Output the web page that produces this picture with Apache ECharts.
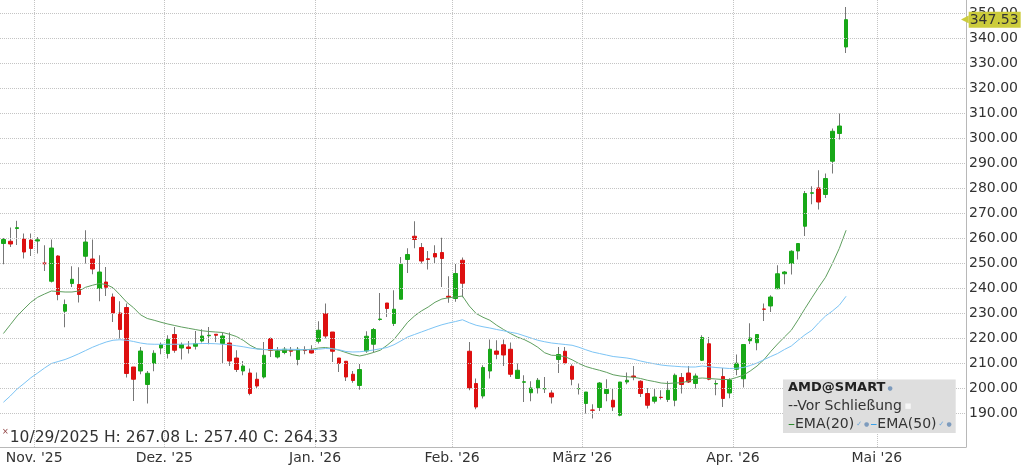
<!DOCTYPE html>
<html><head><meta charset="utf-8">
<script src="https://cdn.jsdelivr.net/npm/echarts@6/dist/echarts.min.js"></script>
<style>html,body{margin:0;padding:0;background:#fff}#c{width:1024px;height:468px}</style>
</head><body><div id="c"></div>
<script>
// ---- categories (trading days) ----
const startDate = '2025-10-27';
const holidays = ['2025-11-27','2025-12-25','2026-01-01','2026-01-19','2026-02-16','2026-04-03'];
const slotCount = 141;
const monthKeys = ['2025-11','2025-12','2026-01','2026-02','2026-03','2026-04','2026-05'];
const monthLabels = ["Nov. '25","Dez. '25","Jan. '26","Feb. '26","März '26","Apr. '26","Mai '26"];
const yGridValues = [190,200,210,220,230,240,250,260,270,280,290,300,310,320,330,340,350];
const infoIndex = 2;

// ---- OHLC ----
const opens = [258.0,258.9,264.0,259.8,259.4,259.0,250.2,242.9,253.0,230.9,242.0,241.6,252.9,251.8,240.0,242.6,236.6,230.2,232.4,208.6,
207.0,201.6,210.0,216.2,214.0,221.6,216.2,216.6,216.9,219.0,221.1,221.7,218.0,218.2,212.2,207.0,206.2,203.7,204.6,220.0,
212.6,214.4,215.3,211.6,215.6,215.6,218.9,230.0,222.6,212.2,210.9,205.7,201.2,215.0,217.7,227.6,234.2,226.0,235.7,251.6,
260.9,256.4,251.9,254.0,254.4,236.9,236.0,251.3,214.9,202.0,197.0,207.0,215.0,217.5,215.7,204.0,202.5,198.3,200.2,199.9,
198.2,211.6,214.9,208.9,199.9,194.0,191.4,192.4,198.0,195.3,189.3,202.6,205.0,202.9,198.0,194.9,196.5,195.6,195.3,204.4,
206.2,202.0,211.3,217.9,201.8,204.8,198.2,207.7,203.9,219.1,218.3,231.8,233.0,239.9,245.9,250.0,255.0,264.9,278.1,280.2,
277.6,290.9,302.0,336.6];
const highs = [260.2,264.4,267.08,262.0,262.0,260.6,257.3,259.6,253.3,235.6,248.9,248.5,263.3,259.6,253.3,248.6,238.0,234.9,234.0,208.6,
216.6,207.0,215.3,218.4,221.3,224.6,218.4,219.0,223.0,223.7,224.6,221.7,222.4,222.4,215.3,211.0,208.0,206.4,218.6,220.4,
216.6,216.6,216.6,216.6,216.9,217.3,226.9,234.0,222.6,212.2,210.9,207.0,209.8,222.9,224.2,238.2,234.2,239.3,252.6,256.1,
266.9,258.2,255.0,257.3,260.3,244.9,249.8,252.4,218.6,204.0,209.3,219.6,219.3,219.6,218.4,210.0,205.3,202.9,204.2,204.6,
199.3,216.6,216.6,209.7,202.0,198.6,193.7,202.6,203.7,200.2,202.6,206.4,209.0,203.3,200.2,200.0,199.3,202.9,206.0,206.2,
209.0,206.0,221.3,220.6,203.3,208.2,204.1,213.6,217.6,226.1,221.8,234.0,237.3,249.3,247.0,255.3,258.2,279.0,280.9,287.3,
286.0,304.0,310.0,352.6];
const lows = [249.7,256.6,257.40,252.0,253.0,254.0,247.0,242.4,235.3,224.5,240.6,234.4,250.0,245.7,234.9,237.0,226.6,220.0,204.4,195.0,
205.7,194.0,206.9,213.7,212.0,214.3,211.6,214.0,215.6,218.4,217.7,218.6,210.0,209.0,206.6,205.3,197.3,200.0,204.0,212.6,
212.0,213.7,212.9,209.3,213.7,214.0,218.0,220.0,210.6,206.6,203.0,202.3,199.5,214.3,214.4,227.1,228.6,225.0,235.7,246.2,
256.1,250.0,247.6,250.0,240.6,234.3,234.7,236.5,199.3,191.7,196.0,204.0,211.7,209.0,204.6,204.0,194.6,194.9,198.0,198.2,
194.0,206.2,209.6,201.3,197.6,190.0,188.0,191.0,194.9,191.0,188.9,201.7,203.3,196.6,192.0,194.0,195.6,194.6,192.9,198.0,
202.2,200.0,211.0,203.3,197.3,192.6,196.1,205.3,200.4,217.8,215.3,227.0,230.6,239.9,241.7,245.6,251.6,261.0,273.7,271.6,
276.2,286.0,299.6,334.2];
const closes = [259.6,257.8,264.33,254.6,256.0,259.5,249.9,256.2,237.6,233.6,243.7,237.6,258.6,247.8,246.6,240.5,230.2,223.6,206.0,203.7,
215.0,206.1,214.1,217.6,219.7,215.3,217.6,216.0,218.0,221.0,221.3,221.3,221.0,211.0,207.6,209.0,198.0,201.0,213.3,215.3,
215.0,215.7,214.9,215.7,215.2,214.2,223.3,221.0,214.9,210.0,204.6,203.2,207.6,220.9,223.6,227.8,232.0,231.7,249.7,253.6,
259.6,251.0,251.6,252.6,252.0,236.5,246.0,242.1,200.2,192.6,208.4,215.7,213.7,213.4,205.7,207.3,202.7,200.2,203.3,200.0,
196.6,213.6,210.2,203.7,200.0,198.6,191.3,202.2,199.6,192.6,202.6,203.3,204.6,198.0,193.3,196.6,196.4,199.3,205.3,201.6,
202.6,205.0,220.4,203.7,202.0,196.0,203.4,210.1,217.6,220.2,221.6,231.7,236.6,245.9,246.6,254.9,258.0,278.0,278.3,274.6,
284.0,302.9,305.0,347.53];

// ---- indicator lines ----
const ema20 = [222.0,225.5,229.0,231.8,234.5,236.5,237.8,239.0,238.8,238.6,238.6,239.0,240.5,241.3,242.0,241.6,240.3,237.5,234.5,232.3,
229.5,228.0,227.3,226.5,225.8,225.2,224.6,224.1,223.6,223.1,222.8,222.6,222.4,221.7,220.8,219.3,217.3,215.9,215.6,215.4,
215.3,215.3,215.3,215.4,215.5,215.7,216.2,216.4,216.0,215.3,214.4,213.5,213.0,213.6,214.4,215.3,217.3,219.6,223.0,226.5,
229.0,231.0,232.6,234.5,235.8,236.3,236.6,237.0,233.0,230.0,228.5,227.3,225.3,223.6,222.0,220.6,219.6,218.2,216.5,214.3,
213.3,213.2,212.7,211.5,210.0,208.8,208.0,207.3,206.5,205.5,205.0,204.7,204.5,204.0,203.3,202.8,202.2,202.0,202.2,202.3,
203.0,204.0,204.2,204.0,203.8,203.6,203.6,204.4,205.3,207.0,209.0,211.5,214.8,217.8,220.6,223.3,227.5,232.0,236.3,240.5,
244.5,250.0,256.0,263.3];
const ema50 = [194.5,197.0,199.8,202.0,204.3,206.2,208.2,210.0,210.8,211.6,212.7,213.9,215.2,216.5,217.6,218.6,219.3,219.5,219.3,218.8,
218.2,217.8,217.7,217.7,217.7,217.7,217.7,217.8,217.9,218.0,218.0,217.9,217.7,217.5,217.1,216.7,216.2,215.8,215.6,215.6,
215.6,215.7,215.7,215.6,215.5,215.5,215.7,216.0,215.9,215.5,214.8,214.6,214.7,215.0,215.4,215.9,216.4,217.5,219.0,220.6,
221.6,222.6,223.6,224.6,225.5,226.2,226.8,227.5,226.3,225.3,224.7,224.2,223.6,223.1,222.5,222.0,221.1,220.2,219.3,218.7,
218.2,217.9,217.6,217.3,216.5,215.5,214.6,214.0,213.4,212.8,212.5,212.2,211.7,211.0,210.4,209.9,209.4,209.1,208.9,208.7,
208.6,208.6,209.0,208.7,208.4,208.2,208.0,208.1,208.4,209.2,210.2,211.5,212.8,214.0,215.6,217.0,219.3,221.5,223.3,226.3,
229.0,231.0,233.3,236.9];

// ---- build categories ----
const holidaySet = new Set(holidays);
const dates = [];
{
  const d = new Date(startDate + 'T00:00:00Z');
  while (dates.length < slotCount) {
    const iso = d.toISOString().slice(0, 10);
    const wd = d.getUTCDay();
    if (wd !== 0 && wd !== 6 && !holidaySet.has(iso)) dates.push(iso);
    d.setUTCDate(d.getUTCDate() + 1);
  }
}
const monthStarts = new Set();
for (let i = 1; i < dates.length; i++) {
  if (dates[i].slice(0, 7) !== dates[i - 1].slice(0, 7)) monthStarts.add(i);
}
const wickData = opens.map((o, i) => [o, closes[i], lows[i], highs[i]]);
const bodyData = opens.map((o, i) => [o, closes[i], Math.min(o, closes[i]), Math.max(o, closes[i])]);
const last = closes.length - 1;
const fmtDate = s => s.slice(5, 7) + '/' + s.slice(8, 10) + '/' + s.slice(0, 4);
const infoText = fmtDate(dates[infoIndex]) + ' H: ' + highs[infoIndex].toFixed(2) + ' L: ' +
  lows[infoIndex].toFixed(2) + ' C: ' + closes[infoIndex].toFixed(2);

const FONT = 'DejaVu Sans';
const gridColor = '#c4c4c4';
const tagColor = '#cccc3c';
const chart = echarts.init(document.getElementById('c'), null, { renderer: 'canvas' });
chart.setOption({
  animation: false,
  backgroundColor: '#ffffff',
  textStyle: { fontFamily: FONT },
  grid: { left: 0, right: 58, top: 0, bottom: 21, containLabel: false },
  title: [
    {
      left: 783, top: 377, z: 10,
      backgroundColor: '#dedede',
      padding: [2, 3, 2, 5],
      text: '{b|AMD@SMART}{d|●}\n{t|--Vor Schließung}{s|■}\n{g|–}{t|EMA(20)}{k|✓}{d|●}{bl|–}{t|EMA(50)}{k|✓}{d|●}',
      textStyle: {
        fontWeight: 'normal', fontSize: 14, fontFamily: FONT,
        rich: {
          b: { fontFamily: FONT, fontWeight: 'bold', fontSize: 13, color: '#222', lineHeight: 18 },
          t: { fontFamily: FONT, fontWeight: 'normal', fontSize: 14, color: '#333', lineHeight: 18 },
          d: { fontFamily: FONT, fontWeight: 'normal', fontSize: 6, color: '#7d9bbd', lineHeight: 18, padding: [0, 1, 0, 2] },
          s: { fontFamily: FONT, fontWeight: 'normal', fontSize: 7, color: '#f6f6f6', lineHeight: 18, padding: [0, 0, 0, 3] },
          g: { fontFamily: FONT, fontWeight: 'normal', fontSize: 14, color: '#2e8b2e', lineHeight: 18 },
          bl: { fontFamily: FONT, fontWeight: 'normal', fontSize: 14, color: '#3aa0e8', lineHeight: 18 },
          k: { fontFamily: FONT, fontWeight: 'normal', fontSize: 7, color: '#6fa7d8', lineHeight: 18, padding: [0, 0, 0, 2] }
        }
      }
    },
    {
      left: 2, top: 428, z: 10, padding: 0,
      text: '{m|×}{t|' + infoText + '}',
      textStyle: {
        fontWeight: 'normal', fontSize: 15.5, fontFamily: FONT,
        rich: {
          m: { fontFamily: FONT, fontWeight: 'normal', fontSize: 8, color: '#8b3a3a', verticalAlign: 'top', padding: [0, 1, 0, 0] },
          t: { fontFamily: FONT, fontWeight: 'normal', fontSize: 15.5, color: '#333', lineHeight: 19 }
        }
      }
    }
  ],
  xAxis: {
    type: 'category',
    data: dates,
    boundaryGap: true,
    axisLine: { show: true, lineStyle: { color: '#b8b8b8', width: 1 } },
    axisTick: { show: false },
    axisLabel: {
      interval: (i) => monthStarts.has(i),
      formatter: (v) => monthLabels[monthKeys.indexOf(v.slice(0, 7))],
      color: '#333', fontSize: 14, fontFamily: FONT, margin: 4,
      padding: [0, 7, 0, 0]
    },
    splitLine: {
      show: true,
      interval: (i) => monthStarts.has(i),
      lineStyle: { color: gridColor, type: [1, 1], width: 1 }
    }
  },
  yAxis: {
    type: 'value',
    position: 'right',
    min: 176.6, max: 355.4,
    minInterval: 10, maxInterval: 10,
    scale: true,
    axisLine: { show: true, lineStyle: { color: '#b8b8b8', width: 1 } },
    axisTick: { show: false },
    splitLine: { show: false },
    axisLabel: {
      showMinLabel: false, showMaxLabel: false,
      margin: 3, fontSize: 14, fontFamily: FONT, color: '#333',
      formatter: (v) => (v < 185 ? '' : v.toFixed(2))
    }
  },
  series: [
    {
      name: 'wick', type: 'candlestick', data: wickData, barWidth: 1, z: 2,
      itemStyle: { color: '#777', color0: '#777', borderColor: '#777', borderColor0: '#777', borderWidth: 1 },
      silent: true,
      markLine: {
        silent: true, symbol: 'none', animation: false,
        label: { show: false },
        lineStyle: { color: gridColor, type: [1, 1], width: 1 },
        data: yGridValues.map(v => ({ yAxis: v }))
      }
    },
    {
      name: 'AMD@SMART', type: 'candlestick', data: bodyData, barWidth: 4, z: 3,
      itemStyle: { color: '#18a818', color0: '#dd1010', borderColor: '#18a818', borderColor0: '#dd1010', borderWidth: 1 },
      silent: true
    },
    {
      name: 'EMA(20)', type: 'line', data: ema20, symbol: 'none', z: 4,
      lineStyle: { color: '#5f9f5f', width: 1 }, silent: true
    },
    {
      name: 'EMA(50)', type: 'line', data: ema50, symbol: 'none', z: 4,
      lineStyle: { color: '#7cc4f5', width: 1 }, silent: true
    },
    {
      name: 'lastTag', type: 'line', data: [], z: 10, silent: true,
      markLine: {
        silent: true, symbol: 'none', animation: false,
        lineStyle: { color: 'rgba(0,0,0,0)', width: 1 },
        label: {
          show: true, position: 'end', distance: -5,
          formatter: () => '{a|◀}{b|' + closes[last].toFixed(2) + '}',
          rich: {
            a: { fontFamily: FONT, fontSize: 10, color: tagColor },
            b: { fontFamily: FONT, fontSize: 14, color: '#333', backgroundColor: tagColor, padding: [2, 2, 0, 1], lineHeight: 15 }
          }
        },
        data: [{ yAxis: closes[last] }]
      }
    }
  ]
});
</script>
</body></html>
